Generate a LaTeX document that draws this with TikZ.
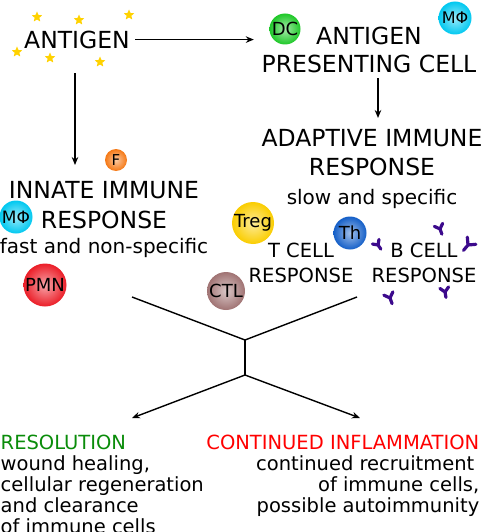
\documentclass[tikz,border=0pt]{standalone}
\usepackage{fontspec}
\setmainfont{DejaVu Sans}
\usetikzlibrary{arrows.meta,calc,positioning,shapes.geometric}
\definecolor{dccol}{RGB}{30,200,40}
\definecolor{mphicol}{RGB}{0,200,240}
\definecolor{fcol}{RGB}{245,120,20}
\definecolor{pmncol}{RGB}{235,30,40}
\definecolor{ctlcol}{RGB}{160,115,115}
\definecolor{tregcol}{RGB}{250,205,0}
\definecolor{thcol}{RGB}{20,95,200}
\definecolor{abcol}{RGB}{60,10,140}
\definecolor{starcol}{RGB}{255,210,0}
\definecolor{resgreen}{RGB}{10,140,10}
\newcommand{\antibody}[3]{\begin{scope}[shift={#1},rotate=#2,scale=#3]
  \draw[abcol,line width=3.2pt,line cap=round] (0,0)--(0,5) (0,0)--(-4,-4) (0,0)--(4,-4);\end{scope}}

\begin{document}
\begin{tikzpicture}[x=1pt,y=-1pt,>={Stealth[length=8pt,width=6.5pt]},line width=1.4pt,
  every node/.style={inner sep=0pt},
  cell/.style={circle,inner sep=-2pt,shading=radial,inner color=#1!40!white,outer color=#1,
    font=\fontsize{18}{18}\selectfont},
  big/.style={font=\fontsize{23.5}{29}\selectfont,align=center},
  sub/.style={font=\fontsize{20}{21}\selectfont},
  mid/.style={font=\fontsize{19.5}{25}\selectfont,align=center},
  low/.style={font=\fontsize{19.5}{21}\selectfont},
  starry/.style={star,star points=5,star point ratio=2.2,fill=starcol,minimum size=11pt}]
\useasboundingbox (0,0) rectangle (484,532);
% texts
\node[big,anchor=north] (antigen) at (77,30) {ANTIGEN};
\node[big,anchor=north] (apc) at (369,26) {ANTIGEN\\[-1pt]PRESENTING CELL};
\node[big,anchor=north] (adaptive) at (372,129) {ADAPTIVE IMMUNE\\RESPONSE};
\node[sub,anchor=base] (adaptsub) at (372,204) {slow and specific};
\node[big,anchor=north] (innate) at (104,181) {INNATE IMMUNE\\[1pt]RESPONSE};
\node[sub,anchor=base] (innatesub) at (104,253) {fast and non-specific};
\node[mid,anchor=north] (tcell) at (301,242) {T CELL\\RESPONSE};
\node[mid,anchor=north] (bcell) at (424,242) {B CELL\\RESPONSE};
\node[low,anchor=north west,align=left] (resol) at (0,434)
  {\textcolor{resgreen}{RESOLUTION}\\wound healing,\\cellular regeneration\\and clearance\\of immune cells};
\node[low,anchor=north east,align=right] (inflam) at (480,434)
  {\textcolor{red}{CONTINUED INFLAMMATION}\\continued recruitment\kern5pt\\of immune cells,\\possible autoimmunity};
% cells
\node[cell=dccol,minimum size=31pt] (dc) at (285,29) {DC};
\node[cell=mphicol,minimum size=33pt,font=\fontsize{16}{16}\selectfont] (mphiA) at (455,18) {MΦ};
\node[cell=mphicol,minimum size=33pt,font=\fontsize{17}{17}\selectfont] (mphiB) at (16,217) {MΦ};
\node[cell=fcol,minimum size=22pt,font=\fontsize{15}{15}\selectfont] (fcell) at (116,160) {F};
\node[cell=pmncol,minimum size=43pt] (pmn) at (45,285) {PMN};
\node[cell=ctlcol,minimum size=38pt] (ctl) at (226,291) {CTL};
\node[cell=tregcol,minimum size=42pt] (treg) at (253,223) {Treg};
\node[cell=thcol,minimum size=33pt] (th) at (350,233) {Th};
% antigen stars
\foreach \p [count=\i] in {(37,17),(79,20),(129,15),(17,52),(50,58),(100,62)}
  \node[starry] (star\i) at \p {};
% antibodies
\antibody{(440,229)}{20}{1.1}
\antibody{(378,245)}{35}{1}
\antibody{(468,245)}{-40}{1.4}
\antibody{(390,298)}{20}{1.2}
\antibody{(445,292)}{10}{1.1}
% arrows
\draw[->] ([xshift=5pt]antigen.east) -- ([xshift=-15pt]antigen.east -| dc.west);
\draw[->] ([xshift=9pt,yshift=-5pt]apc.south) -- ([xshift=6pt,yshift=11pt]adaptive.north);
\draw[->] ([xshift=-2pt,yshift=-24pt]antigen.south) -- ([xshift=-29pt,yshift=16pt]innate.north);
\coordinate (xa) at (132,297);
\coordinate (xb) at (357,297);
\coordinate (j1) at (245,340);
\coordinate (j2) at (245,375);
\coordinate (ea) at (132,418);
\coordinate (eb) at (360,418);
\draw (xa) -- (j1) -- (xb);
\draw (j1) -- (j2);
\draw[->] (j2) -- (ea);
\draw[->] (j2) -- (eb);
\end{tikzpicture}
\end{document}
